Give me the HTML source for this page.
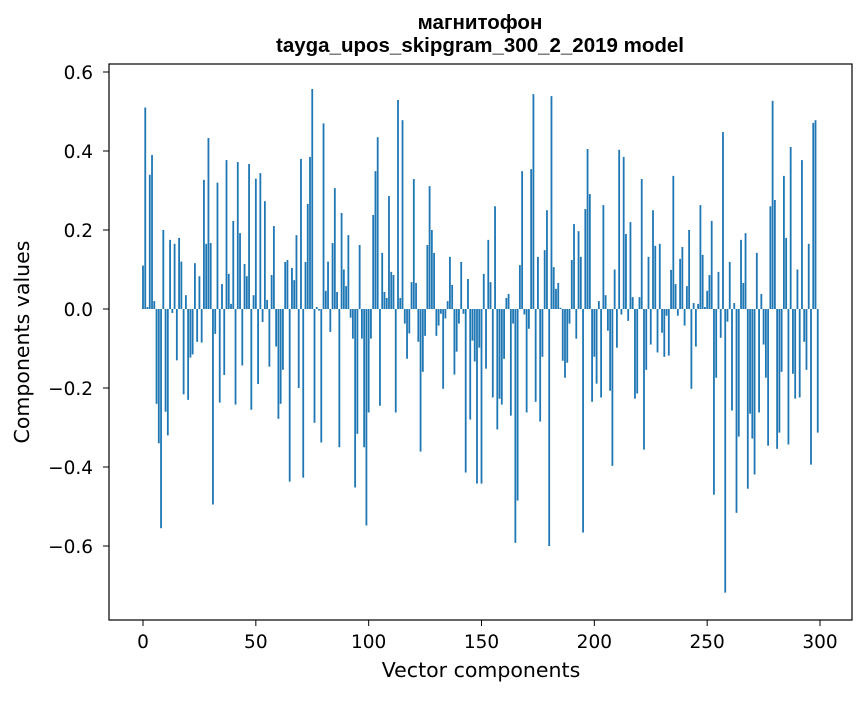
<!DOCTYPE html>
<html><head><meta charset="utf-8"><style>
body{margin:0;background:#fff;}
svg text{font-family:"DejaVu Sans","Liberation Sans",sans-serif;fill:#000;}
svg text.ttl{font-family:"Liberation Sans",sans-serif;}
</style></head><body>
<svg id="chart" width="867" height="696" xmlns="http://www.w3.org/2000/svg">
<rect width="867" height="696" fill="#fff"/>
<text class="ttl" x="480" y="29" text-anchor="middle" font-size="20.5" font-weight="bold">магнитофон</text>
<text class="ttl" x="480" y="52" text-anchor="middle" font-size="20.5" font-weight="bold">tayga_upos_skipgram_300_2_2019 model</text>
<g id="bars"></g>
<g id="axes"></g>
<rect x="109" y="64" width="743" height="556" fill="none" stroke="#000" stroke-width="1.2"/>
<text x="481" y="677" text-anchor="middle" font-size="20.5">Vector components</text>
<text x="29" y="342" text-anchor="middle" font-size="20.5" transform="rotate(-90 29 342)">Components values</text>
</svg>
<script>
const values = [
0.11,0.51,0.005,0.34,0.39,0.02,-0.24,-0.34,-0.555,0.20,
-0.26,-0.32,0.175,-0.01,0.165,-0.13,0.18,0.12,-0.216,0.035,
-0.23,-0.123,-0.115,0.116,-0.083,0.083,-0.085,0.327,0.165,0.433,
0.167,-0.495,-0.063,0.32,-0.237,0.063,-0.167,0.377,0.089,0.013,
0.223,-0.242,0.372,0.192,-0.143,0.114,0.083,0.367,-0.255,0.035,
0.33,-0.19,0.344,-0.033,0.273,0.023,-0.146,0.086,0.21,-0.095,
-0.278,-0.24,-0.154,0.119,0.124,-0.437,0.104,0.073,0.187,-0.2,
0.38,-0.427,0.119,0.266,0.385,0.557,-0.288,0.005,-0.004,-0.338,
0.47,0.046,0.12,-0.058,0.167,0.306,0.043,-0.35,0.243,0.1,
0.058,0.187,-0.022,-0.075,-0.452,-0.316,0.162,-0.075,-0.35,-0.548,
-0.262,-0.075,0.238,0.349,0.435,-0.245,0.142,0.043,0.028,0.286,
0.094,0.086,-0.262,0.529,0.028,0.478,-0.037,-0.126,-0.062,0.068,
0.329,0.066,-0.083,-0.361,-0.159,-0.068,0.162,0.311,0.2,0.142,
-0.068,-0.042,-0.012,-0.202,-0.024,0.02,0.132,0.061,-0.166,-0.108,
-0.037,0.119,-0.012,-0.414,0.076,-0.28,-0.08,-0.133,-0.442,-0.098,
-0.442,0.089,-0.151,0.175,0.068,-0.224,0.26,-0.305,-0.227,-0.242,
-0.126,0.028,0.038,-0.27,-0.037,-0.592,-0.485,0.111,0.349,-0.014,
-0.262,-0.05,0.354,0.544,-0.235,0.132,-0.285,-0.121,0.149,0.25,
-0.6,0.539,0.106,0.051,0.066,0.003,-0.131,-0.174,-0.136,-0.037,
0.124,0.215,-0.075,0.197,0.132,-0.566,0.253,0.405,0.291,-0.235,
-0.121,-0.189,0.02,-0.224,0.263,0.035,-0.055,-0.207,-0.397,0.1,
-0.098,0.403,-0.014,0.385,0.19,-0.03,0.22,0.03,-0.227,-0.214,
0.03,0.329,-0.356,-0.154,0.132,-0.09,0.25,0.16,-0.11,0.165,
-0.06,-0.121,-0.017,-0.118,0.099,0.337,0.063,-0.017,0.127,0.157,
-0.042,0.058,0.2,-0.202,0.015,-0.095,0.013,0.263,0.137,0.005,
0.046,0.086,0.223,-0.47,-0.174,0.094,-0.073,0.448,-0.718,-0.032,
0.119,-0.257,0.015,-0.516,-0.323,0.175,0.066,0.192,-0.455,-0.265,
-0.328,-0.419,0.142,-0.262,0.038,-0.09,-0.174,-0.346,0.26,0.527,
0.276,-0.354,-0.313,-0.159,0.337,0.18,-0.343,0.41,-0.164,-0.227,
0.1,-0.224,0.377,-0.083,-0.154,0.165,-0.394,0.471,0.478,-0.313
];
const xTicks = [0,50,100,150,200,250,300];
const yTicks = [-0.6,-0.4,-0.2,0.0,0.2,0.4,0.6];
const yTickLabels = ["\u22120.6","\u22120.4","\u22120.2","0.0","0.2","0.4","0.6"];

const NS = "http://www.w3.org/2000/svg";
function xs(v){ return 143 + v * 2.2567; }
function ys(v){ return 309 - v * 395; }
const bars = document.getElementById('bars');
values.forEach((v,i)=>{
  const r = document.createElementNS(NS,'rect');
  const y0 = ys(0), y1 = ys(v);
  r.setAttribute('x', xs(i) - 0.4*2.2567);
  r.setAttribute('width', 0.8*2.2567);
  r.setAttribute('y', Math.min(y0,y1));
  r.setAttribute('height', Math.max(Math.abs(y1-y0),0.3));
  r.setAttribute('fill', '#1f77b4');
  
  
  bars.appendChild(r);
});
const axes = document.getElementById('axes');
xTicks.forEach(t=>{
  const l = document.createElementNS(NS,'line');
  l.setAttribute('x1', xs(t)); l.setAttribute('x2', xs(t));
  l.setAttribute('y1', 620); l.setAttribute('y2', 626);
  l.setAttribute('stroke', '#000');
  
  
  axes.appendChild(l);
  const tx = document.createElementNS(NS,'text');
  tx.setAttribute('x', xs(t)); tx.setAttribute('y', 648);
  tx.setAttribute('text-anchor', 'middle'); tx.setAttribute('font-size', '18.5');
  tx.textContent = String(t);
  
  
  axes.appendChild(tx);
});
yTicks.forEach((t,k)=>{
  const l = document.createElementNS(NS,'line');
  l.setAttribute('x1', 103); l.setAttribute('x2', 109);
  l.setAttribute('y1', ys(t)); l.setAttribute('y2', ys(t));
  l.setAttribute('stroke', '#000');
  
  
  axes.appendChild(l);
  const tx = document.createElementNS(NS,'text');
  tx.setAttribute('x', 93); tx.setAttribute('y', ys(t) + 7);
  tx.setAttribute('text-anchor', 'end'); tx.setAttribute('font-size', '18.5');
  tx.textContent = yTickLabels[k];
  
  
  axes.appendChild(tx);
});
</script>
</body></html>
